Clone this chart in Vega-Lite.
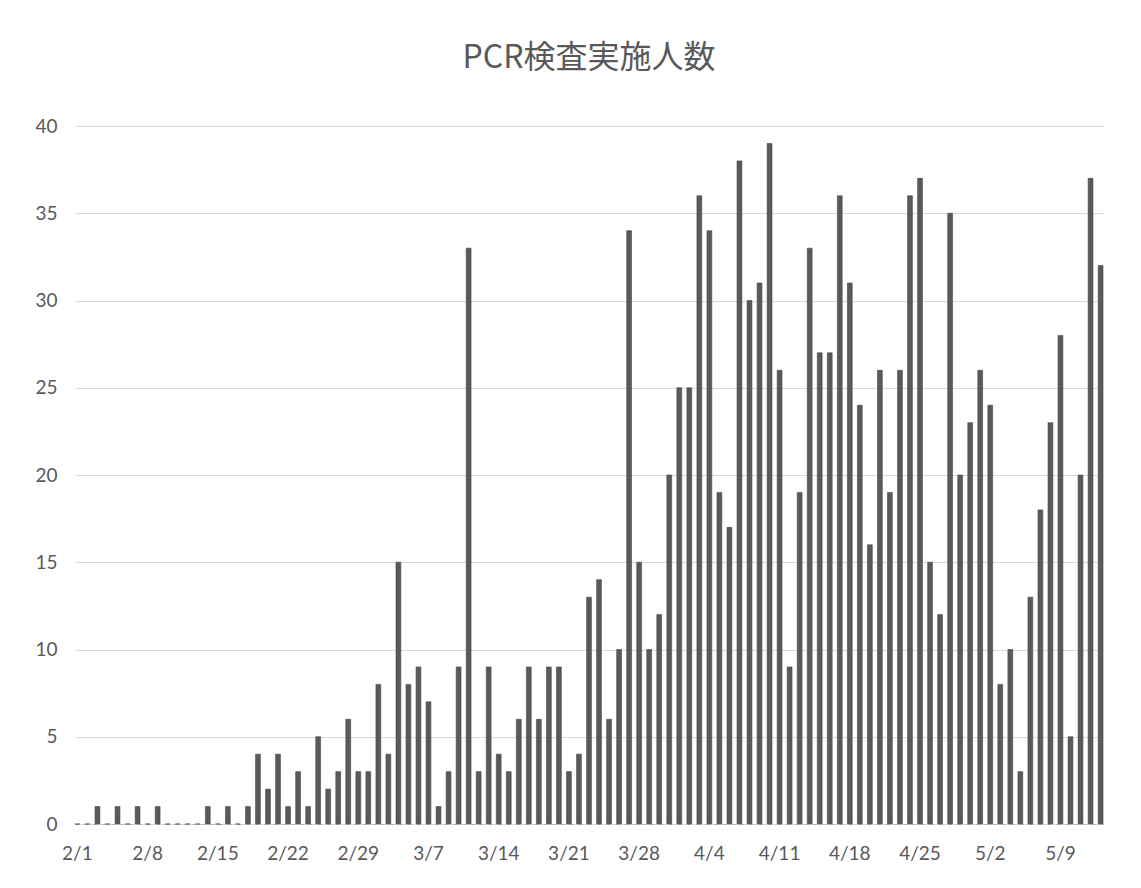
{
  "$schema": "https://vega.github.io/schema/vega-lite/v6.json",
  "autosize": "none",
  "width": 1028,
  "height": 698,
  "padding": {"left": 75, "top": 126, "right": 38, "bottom": 64},
  "background": "white",
  "title": {
    "text": "PCR検査実施人数",
    "font": "Noto Sans CJK JP",
    "fontSize": 32,
    "fontWeight": "normal",
    "color": "#595959",
    "anchor": "middle",
    "offset": 42
  },
  "config": {"view": {"stroke": null}},
  "data": {"values": [
    {"d": "2/1", "n": 0}, {"d": "2/2", "n": 0}, {"d": "2/3", "n": 1}, {"d": "2/4", "n": 0}, {"d": "2/5", "n": 1},
    {"d": "2/6", "n": 0}, {"d": "2/7", "n": 1}, {"d": "2/8", "n": 0}, {"d": "2/9", "n": 1}, {"d": "2/10", "n": 0},
    {"d": "2/11", "n": 0}, {"d": "2/12", "n": 0}, {"d": "2/13", "n": 0}, {"d": "2/14", "n": 1}, {"d": "2/15", "n": 0},
    {"d": "2/16", "n": 1}, {"d": "2/17", "n": 0}, {"d": "2/18", "n": 1}, {"d": "2/19", "n": 4}, {"d": "2/20", "n": 2},
    {"d": "2/21", "n": 4}, {"d": "2/22", "n": 1}, {"d": "2/23", "n": 3}, {"d": "2/24", "n": 1}, {"d": "2/25", "n": 5},
    {"d": "2/26", "n": 2}, {"d": "2/27", "n": 3}, {"d": "2/28", "n": 6}, {"d": "2/29", "n": 3}, {"d": "3/1", "n": 3},
    {"d": "3/2", "n": 8}, {"d": "3/3", "n": 4}, {"d": "3/4", "n": 15}, {"d": "3/5", "n": 8}, {"d": "3/6", "n": 9},
    {"d": "3/7", "n": 7}, {"d": "3/8", "n": 1}, {"d": "3/9", "n": 3}, {"d": "3/10", "n": 9}, {"d": "3/11", "n": 33},
    {"d": "3/12", "n": 3}, {"d": "3/13", "n": 9}, {"d": "3/14", "n": 4}, {"d": "3/15", "n": 3}, {"d": "3/16", "n": 6},
    {"d": "3/17", "n": 9}, {"d": "3/18", "n": 6}, {"d": "3/19", "n": 9}, {"d": "3/20", "n": 9}, {"d": "3/21", "n": 3},
    {"d": "3/22", "n": 4}, {"d": "3/23", "n": 13}, {"d": "3/24", "n": 14}, {"d": "3/25", "n": 6}, {"d": "3/26", "n": 10},
    {"d": "3/27", "n": 34}, {"d": "3/28", "n": 15}, {"d": "3/29", "n": 10}, {"d": "3/30", "n": 12}, {"d": "3/31", "n": 20},
    {"d": "4/1", "n": 25}, {"d": "4/2", "n": 25}, {"d": "4/3", "n": 36}, {"d": "4/4", "n": 34}, {"d": "4/5", "n": 19},
    {"d": "4/6", "n": 17}, {"d": "4/7", "n": 38}, {"d": "4/8", "n": 30}, {"d": "4/9", "n": 31}, {"d": "4/10", "n": 39},
    {"d": "4/11", "n": 26}, {"d": "4/12", "n": 9}, {"d": "4/13", "n": 19}, {"d": "4/14", "n": 33}, {"d": "4/15", "n": 27},
    {"d": "4/16", "n": 27}, {"d": "4/17", "n": 36}, {"d": "4/18", "n": 31}, {"d": "4/19", "n": 24}, {"d": "4/20", "n": 16},
    {"d": "4/21", "n": 26}, {"d": "4/22", "n": 19}, {"d": "4/23", "n": 26}, {"d": "4/24", "n": 36}, {"d": "4/25", "n": 37},
    {"d": "4/26", "n": 15}, {"d": "4/27", "n": 12}, {"d": "4/28", "n": 35}, {"d": "4/29", "n": 20}, {"d": "4/30", "n": 23},
    {"d": "5/1", "n": 26}, {"d": "5/2", "n": 24}, {"d": "5/3", "n": 8}, {"d": "5/4", "n": 10}, {"d": "5/5", "n": 3},
    {"d": "5/6", "n": 13}, {"d": "5/7", "n": 18}, {"d": "5/8", "n": 23}, {"d": "5/9", "n": 28}, {"d": "5/10", "n": 5},
    {"d": "5/11", "n": 20}, {"d": "5/12", "n": 37}, {"d": "5/13", "n": 32}
  ]},
  "mark": {"type": "bar", "color": "#5a5a5a", "stroke": "#444444", "strokeWidth": 0.6},
  "encoding": {
    "x": {
      "field": "d",
      "type": "ordinal",
      "sort": null,
      "title": null,
      "scale": {"paddingInner": 0.52, "paddingOuter": 0},
      "axis": {
        "values": ["2/1", "2/8", "2/15", "2/22", "2/29", "3/7", "3/14", "3/21", "3/28", "4/4", "4/11", "4/18", "4/25", "5/2", "5/9"],
        "labelAngle": 0,
        "labelFont": "Lato",
        "labelFontSize": 19,
        "labelColor": "#595959",
        "labelPadding": 20,
        "ticks": false,
        "domainColor": "#b0b0b0",
        "domainDash": [3, 6],
        "domainWidth": 1.2
      }
    },
    "y": {
      "field": "n",
      "type": "quantitative",
      "title": null,
      "scale": {"domain": [0, 40], "nice": false},
      "axis": {
        "values": [0, 5, 10, 15, 20, 25, 30, 35, 40],
        "labelFont": "Lato",
        "labelFontSize": 19,
        "labelColor": "#595959",
        "labelPadding": 18,
        "ticks": false,
        "domain": false,
        "grid": true,
        "gridColor": "#d9d9d9",
        "gridWidth": 1.2
      }
    }
  }
}
